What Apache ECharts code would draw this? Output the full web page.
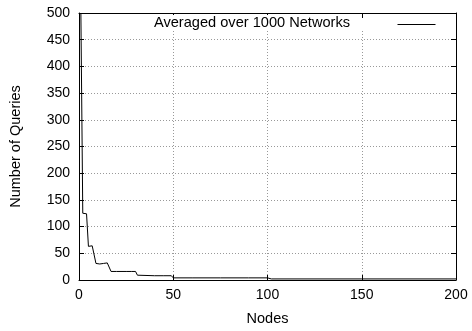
<!DOCTYPE html>
<html>
<head>
<meta charset="utf-8">
<script src="https://cdn.jsdelivr.net/npm/echarts@6/dist/echarts.min.js"></script>
<style>
  html, body { margin: 0; padding: 0; background: #fff; }
  #chart { width: 472px; height: 331px; }
</style>
</head>
<body>
<div id="chart"></div>
<script>
// Query count per network size, averaged over 1000 random networks
const nodes   = [1, 2, 3, 4, 5, 6, 7, 8, 9, 10, 11, 12, 13, 14, 15, 16, 17, 20, 25, 26, 28, 30, 31, 40, 45, 49, 50, 60, 75, 90, 100, 101, 102, 150, 200];
const queries = [500, 125, 125, 124, 63, 62, 64, 63, 31, 31, 30, 31, 31, 33, 32, 31, 16, 16, 16, 15, 16, 16, 9, 8, 8, 8, 4, 4, 4, 4, 4, 3, 2, 2, 2];

const xTicks = { min: 0, max: 200, interval: 50 };
const yTicks = { min: 0, max: 500, interval: 50 };
const seriesName = 'Averaged over 1000 Networks';

const points = nodes.map((n, i) => [n, queries[i]]);

const font = 'Liberation Sans, Arial, Helvetica, sans-serif';
const frameLine = { show: true, onZero: false, lineStyle: { color: '#000', width: 1 } };
const innerTick = { show: true, inside: true, length: 5, lineStyle: { color: '#000' } };
const dotted = { show: true, lineStyle: { color: '#999', type: [1, 2], width: 1 } };

const chart = echarts.init(document.getElementById('chart'), null, { renderer: 'canvas' });
chart.setOption({
  animation: false,
  backgroundColor: '#fff',
  grid: { left: 76, right: 16, top: 13, bottom: 45, containLabel: false },
  // key: opaque strip with title text and a line sample, top-right of the frame
  graphic: [
    {
      type: 'rect', left: 150, top: 18, z: 10,
      shape: { width: 305, height: 12 },
      style: { fill: '#fff' }
    },
    {
      type: 'text', right: 122, top: 15, z: 11,
      style: { text: seriesName, fontFamily: font, fontSize: 14.6, fill: '#000', backgroundColor: '#fff' }
    },
    {
      type: 'line', right: 34, top: 22, z: 11,
      shape: { x1: 0, y1: 0, x2: 38, y2: 0 },
      style: { stroke: '#000', lineWidth: 1 }
    }
  ],
  xAxis: [
    {
      type: 'value', ...xTicks,
      name: 'Nodes', nameLocation: 'middle', nameGap: 31,
      nameTextStyle: { fontFamily: font, fontSize: 14.5, color: '#000' },
      axisLine: frameLine, axisTick: innerTick, splitLine: dotted,
      axisLabel: { fontFamily: font, fontSize: 14, color: '#000', margin: 8 }
    },
    {
      type: 'value', ...xTicks, position: 'top',
      axisLine: frameLine, axisTick: innerTick, splitLine: { show: false },
      axisLabel: { show: false }
    }
  ],
  yAxis: [
    {
      type: 'value', ...yTicks,
      name: 'Number of Queries', nameLocation: 'middle', nameGap: 56,
      nameTextStyle: { fontFamily: font, fontSize: 14.5, color: '#000' },
      axisLine: frameLine, axisTick: innerTick, splitLine: dotted,
      axisLabel: { fontFamily: font, fontSize: 14, color: '#000', margin: 9 }
    },
    {
      type: 'value', ...yTicks, position: 'right',
      axisLine: frameLine, axisTick: innerTick, splitLine: { show: false },
      axisLabel: { show: false }
    }
  ],
  series: [{
    name: seriesName,
    type: 'line',
    xAxisIndex: 0,
    yAxisIndex: 0,
    data: points,
    showSymbol: false,
    symbol: 'none',
    lineStyle: { color: '#000', width: 1 },
    itemStyle: { color: '#000' }
  }]
});
</script>
</body>
</html>
